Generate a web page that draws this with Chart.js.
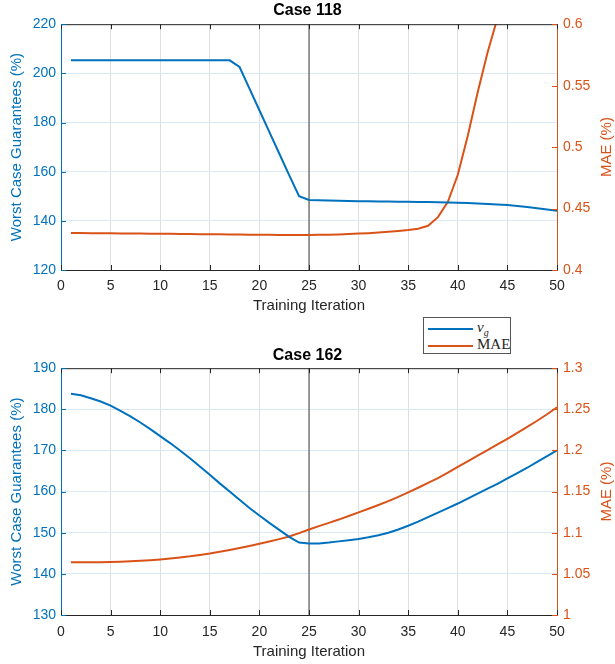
<!DOCTYPE html>
<html lang="en">
<head>
<meta charset="UTF-8">
<title>Case 118 / Case 162</title>
<script src="https://cdn.jsdelivr.net/npm/chart.js"></script>
<style>
body{margin:0;background:#fff;width:615px;height:664px;position:relative;overflow:hidden;}
.box{position:absolute;left:0;width:615px;height:320px;}
#topBox{top:0;}
#botBox{top:344px;}
.legend{
    position:absolute;left:423px;top:317px;width:86px;height:35px;
    border:1px solid #555;background:#fff;
    font-family:"Liberation Serif","DejaVu Serif",serif;font-size:15px;color:#262626;
}
.legend .row{position:absolute;left:4px;height:16px;line-height:16px;white-space:nowrap;}
.legend .ln{display:inline-block;width:45px;height:2px;vertical-align:middle;margin-right:4px;}
.legend sub{font-size:10px;}
</style>
</head>
<body>

<div class="box" id="topBox"><canvas id="chartTop" width="615" height="320"></canvas></div>
<div class="box" id="botBox"><canvas id="chartBot" width="615" height="320"></canvas></div>

<div class="legend">
    <div class="row" style="top:1px;"><span class="ln" style="background:#0072BD"></span><i>v</i><sub><i>g</i></sub></div>
    <div class="row" style="top:18px;"><span class="ln" style="background:#D95319"></span>MAE</div>
</div>

<script>

// training iterations (x axis)
const iterations = [1,2,3,4,5,6,7,8,9,10,11,12,13,14,15,16,17,18,19,20,21,22,23,24,25,
                    26,27,28,29,30,31,32,33,34,35,36,37,38,39,40,41,42,43,44,45,46,47,48,49,50];

// Case 118
const case118Vg = [205.3,205.3,205.3,205.3,205.3,205.3,205.3,205.3,205.3,205.3,
                   205.3,205.3,205.3,205.3,205.3,205.3,205.3,202.6,193.8,185.0,
                   176.2,167.4,158.6,150.0,148.5,148.4,148.3,148.2,148.1,148.0,
                   147.95,147.9,147.85,147.8,147.75,147.7,147.65,147.6,147.5,147.4,
                   147.3,147.1,146.9,146.65,146.4,146.0,145.6,145.1,144.6,144.1];
const case118Mae = [0.4302,0.4301,0.4300,0.4300,0.4299,0.4298,0.4297,0.4296,0.4295,0.4295,
                    0.4294,0.4293,0.4292,0.4291,0.4290,0.4290,0.4289,0.4288,0.4287,0.4286,
                    0.4286,0.4285,0.4285,0.4285,0.4285,0.4286,0.4287,0.4289,0.4292,0.4296,
                    0.4300,0.4305,0.4311,0.4318,0.4326,0.4336,0.4360,0.4430,0.4555,0.4775,
                    0.5090,0.5445,0.5770,0.6050,0.640,0.68,0.73,0.78,0.84,0.90];

// Case 162
const case162Vg = [183.8,183.4,182.7,181.9,180.9,179.6,178.3,176.8,175.2,173.5,
                   171.8,170.0,168.1,166.1,164.1,162.0,160.0,158.0,156.0,154.2,
                   152.4,150.7,149.0,147.6,147.4,147.4,147.6,147.9,148.2,148.5,
                   148.9,149.4,150.0,150.8,151.7,152.7,153.8,154.9,156.0,157.1,
                   158.3,159.5,160.7,161.9,163.2,164.5,165.8,167.2,168.6,170.0];
const case162Mae = [1.0640,1.0640,1.0640,1.0641,1.0643,1.0647,1.0652,1.0658,1.0666,1.0675,
                    1.0686,1.0699,1.0713,1.0730,1.0748,1.0769,1.0791,1.0814,1.0839,1.0865,
                    1.0893,1.0922,1.0955,1.0995,1.1040,1.1080,1.1120,1.1160,1.1203,1.1247,
                    1.1291,1.1337,1.1385,1.1435,1.1490,1.1547,1.1605,1.1665,1.1730,1.1800,
                    1.1868,1.1936,1.2005,1.2073,1.2142,1.2213,1.2286,1.2361,1.2440,1.2525];

const markerIter = 25;
const xRange = [0, 50];

const BLUE = '#0072BD';
const ORANGE = '#D95319';
const DARK = '#262626';

Chart.defaults.font.family = '"Liberation Sans", Arial, sans-serif';
Chart.defaults.font.size = 14;

// top edge, inward tick marks, right axis label (reads bottom to top like matlab)
const framePlugin = {
    id:'frame',
    afterDraw(chart){
        const {ctx, chartArea:a, scales} = chart;
        ctx.save();
        ctx.lineWidth = 1;
        ctx.strokeStyle = DARK;
        ctx.beginPath();
        ctx.moveTo(a.left, a.top + 0.5);
        ctx.lineTo(a.right, a.top + 0.5);
        ctx.stroke();

        ctx.beginPath();
        scales.x.ticks.forEach(t => {
            const px = Math.round(scales.x.getPixelForValue(t.value)) + 0.5;
            ctx.moveTo(px, a.bottom); ctx.lineTo(px, a.bottom - 5);
            ctx.moveTo(px, a.top); ctx.lineTo(px, a.top + 5);
        });
        ctx.stroke();

        ctx.strokeStyle = BLUE;
        ctx.beginPath();
        scales.y.ticks.forEach(t => {
            const py = Math.round(scales.y.getPixelForValue(t.value)) + 0.5;
            ctx.moveTo(a.left, py); ctx.lineTo(a.left + 5, py);
        });
        ctx.stroke();

        ctx.strokeStyle = ORANGE;
        ctx.beginPath();
        scales.y1.ticks.forEach(t => {
            const py = Math.round(scales.y1.getPixelForValue(t.value)) + 0.5;
            ctx.moveTo(a.right, py); ctx.lineTo(a.right - 5, py);
        });
        ctx.stroke();

        ctx.translate(607, (a.top + a.bottom) / 2);
        ctx.rotate(-Math.PI / 2);
        ctx.fillStyle = ORANGE;
        ctx.font = '15px "Liberation Sans", Arial, sans-serif';
        ctx.textAlign = 'center';
        ctx.textBaseline = 'middle';
        ctx.fillText('MAE (%)', 0, 0);
        ctx.restore();
    }
};

function fmt(v){ return String(+v.toFixed(2)); }

function makeChart(id, title, vg, mae, leftRange, leftStep, rightRange, rightStep, lay){
    return new Chart(document.getElementById(id), {
        type:'line',
        data:{
            labels:iterations,
            datasets:[
                {data:vg, yAxisID:'y', borderColor:BLUE, borderWidth:2, pointRadius:0, tension:0, clip:0},
                {data:mae, yAxisID:'y1', borderColor:ORANGE, borderWidth:2, pointRadius:0, tension:0, clip:0},
                {data:[{x:markerIter, y:leftRange[0]}, {x:markerIter, y:leftRange[1]}],
                 yAxisID:'y', borderColor:'#404040', borderWidth:1, pointRadius:0}
            ]
        },
        options:{
            responsive:false,
            animation:false,
            layout:{padding:0},
            plugins:{
                legend:{display:false},
                tooltip:{enabled:false},
                title:{display:true, text:title, color:'#000',
                       font:{size:16, weight:'bold'}, padding:{top:lay.titleTop, bottom:lay.titleBottom}}
            },
            scales:{
                x:{
                    type:'linear', min:xRange[0], max:xRange[1],
                    ticks:{stepSize:5, color:DARK, padding:lay.xTickPad, maxRotation:0},
                    grid:{color:'#dfdfdf', drawTicks:false},
                    border:{color:DARK},
                    title:{display:true, text:'Training Iteration', color:DARK, font:{size:15},
                           padding:{top:0, bottom:lay.xTitlePad}},
                    afterFit(s){ s.height = lay.xHeight; }
                },
                y:{
                    position:'left', min:leftRange[0], max:leftRange[1],
                    ticks:{stepSize:leftStep, color:BLUE, padding:5},
                    grid:{color:'#d9eaf5', drawTicks:false},
                    border:{color:BLUE},
                    title:{display:true, text:'Worst Case Guarantees (%)', color:BLUE, font:{size:15},
                           padding:{top:8, bottom:0}},
                    afterFit(s){ s.width = 61; }
                },
                y1:{
                    position:'right', min:rightRange[0], max:rightRange[1],
                    ticks:{stepSize:rightStep, color:ORANGE, padding:6, callback:fmt},
                    grid:{display:false, drawTicks:false},
                    border:{color:ORANGE},
                    afterFit(s){ s.width = 58; }
                }
            }
        },
        plugins:[framePlugin]
    });
}

makeChart('chartTop', 'Case 118', case118Vg, case118Mae, [120, 220], 20, [0.4, 0.6], 0.05,
          {titleTop:1, titleBottom:4, xTickPad:8, xTitlePad:5, xHeight:50});
makeChart('chartBot', 'Case 162', case162Vg, case162Mae, [130, 190], 10, [1, 1.3], 0.05,
          {titleTop:2, titleBottom:3, xTickPad:9, xTitlePad:3, xHeight:49});

</script>
</body>
</html>
